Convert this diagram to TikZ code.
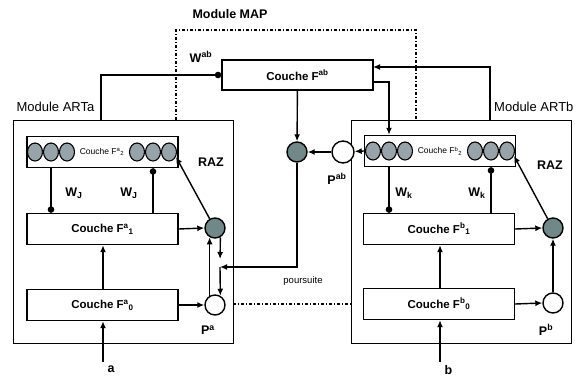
\documentclass[tikz,border=0pt]{standalone}
\usepackage{fontspec}
\setmainfont{Liberation Sans}
\usetikzlibrary{arrows.meta,shapes.geometric}
\definecolor{razgrey}{RGB}{112,136,136}
\definecolor{cellgrey}{RGB}{150,164,170}

\begin{document}
\begin{tikzpicture}[
        x=1pt, y=-1pt,
        every node/.style={font=\fontsize{11.5}{13}\selectfont\bfseries},
        module/.style={draw, line width=1.4pt, anchor=north west, inner sep=0pt,
            minimum width=220pt, minimum height=223pt},
        layer/.style={draw, line width=1.4pt, minimum width=151pt, minimum height=31pt, inner sep=0pt},
        cell/.style={ellipse, draw, line width=1.1pt, fill=cellgrey, minimum width=15pt,
            minimum height=18pt, inner sep=0pt},
        unit/.style={circle, draw, line width=1.4pt, fill=razgrey, minimum size=20pt, inner sep=0pt},
        gate/.style={circle, draw, line width=1.4pt, fill=white, minimum size=20pt, inner sep=0pt},
        link/.style={line width=1.4pt, -{Latex[length=7pt,width=6pt]}},
        tap/.style={line width=1.4pt, -{Circle[length=6.5pt]}},
        mapline/.style={line width=1.4pt, dash pattern=on 3pt off 2pt on 1pt off 2pt},
        tag/.style={font=\fontsize{13}{14}\selectfont},
        lab/.style={font=\fontsize{12.5}{14}\selectfont\bfseries},
        tiny/.style={font=\fontsize{8.5}{9}\selectfont}
    ]

    \useasboundingbox (0,0) rectangle (576,378);

    % Module boxes
    \node[module] (artA) at (13,120) {};
    \node[module] (artB) at (351,120) {};
    \node[tag, anchor=west] (labArtA) at (13,107) {Module ARTa};
    \node[tag, anchor=east] (labArtB) at (577,107) {Module ARTb};
    \node[tag, font=\fontsize{12.5}{14}\selectfont\bfseries] (labMap) at (230,14) {Module MAP};

    % Module MAP outline
    \draw[mapline] (176,120) |- (416,30) -- (416,120);
    \draw[mapline] (233,304) -- (351,304);

    % Map field
    \node[layer, minimum height=30pt] (fab) at (297.5,75) {Couche F\textsuperscript{ab}};
    \node[unit] (mapC) at (297,152) {};
    \node[gate, minimum size=22pt] (pAB) at (343,152) {};
    \node[lab] (labPab) at (337,179) {P\textsuperscript{ab}};
    \node[lab] (labWab) at (201,57) {W\textsuperscript{ab}};
    \node[font=\fontsize{9.5}{10}\selectfont] (labPours) at (303,281) {poursuite};

    % ARTa layers
    \node[layer] (fa2) at (102.5,152) {};
    \node[layer] (fa1) at (102.5,229) {Couche F\textsuperscript{a}\textsubscript{1}};
    \node[layer] (fa0) at (102.5,305) {Couche F\textsuperscript{a}\textsubscript{0}};
    \foreach \i/\x in {1/35,2/51,3/67,4/137,5/153,6/169}
        \node[cell] (cellA\i) at (\x,152) {};
    \node[tiny] (labFa2) at (102,152) {Couche F\textsuperscript{a}\textsubscript{2}};
    \node[unit] (razA) at (215,228) {};
    \node[gate] (pA) at (215,305) {};
    \coordinate (jA) at (220,267);

    % ARTb layers
    \node[layer] (fb2) at (440,151) {};
    \node[layer] (fb1) at (439,229) {Couche F\textsuperscript{b}\textsubscript{1}};
    \node[layer] (fb0) at (439,304) {Couche F\textsuperscript{b}\textsubscript{0}};
    \foreach \i/\x in {1/373,2/389,3/405,4/475,5/491,6/507}
        \node[cell] (cellB\i) at (\x,151) {};
    \node[tiny] (labFb2) at (440,151) {Couche F\textsuperscript{b}\textsubscript{2}};
    \node[unit] (razB) at (553,228) {};
    \node[gate] (pB) at (553,303) {};

    % Labels
    \node[lab] (labRazA) at (211,162) {RAZ};
    \node[lab] (labRazB) at (550,165) {RAZ};
    \node[lab] (labWa1) at (74,193) {W\textsubscript{J}};
    \node[lab] (labWa2) at (129,193) {W\textsubscript{J}};
    \node[lab] (labWb1) at (404,193) {W\textsubscript{k}};
    \node[lab] (labWb2) at (477,193) {W\textsubscript{k}};
    \node[lab] (labPa) at (208,330) {P\textsuperscript{a}};
    \node[lab] (labPb) at (546,330) {P\textsuperscript{b}};

    % Inputs
    \coordinate (inA) at (103,362);
    \coordinate (inB) at (440,362);
    \node[lab, anchor=west] (labA) at (104,369) {a};
    \node[lab, anchor=west] (labB) at (441,370) {b};
    \draw[link] (inA) -- (fa0.south -| inA);
    \draw[link] (inB) -- (fb0.south -| inB);

    % ARTa connections
    \draw[link] (fa0.north -| inA) -- (fa1.south -| inA);
    \draw[link] (fa1.east) -- (razA.west);
    \draw[link] (fa0.east) -- (pA.west);
    \draw[link] (razA.120) -- (cellA6.-35);
    \draw[tap] (fa2.south -| cellA2) -- (fa1.north -| cellA2);
    \draw[tap] (fa1.north -| cellA5) -- (fa2.south -| cellA5);
    \draw[link] (pA.120) -- (razA.240);
    \draw[link, shorten >=8pt] (razA.300) -- (jA);
    \draw[link] (jA) -- (pA.60);

    % ARTb connections
    \draw[link] (fb0.north -| inB) -- (fb1.south -| inB);
    \draw[link] (fb1.east) -- (razB.west);
    \draw[link] (fb0.east) -- (pB.west);
    \draw[link] (pB) -- (razB);
    \draw[link] (razB.120) -- (cellB6.-35);
    \draw[tap] (fb2.south -| cellB2) -- (fb1.north -| cellB2);
    \draw[tap] (fb1.north -| cellB5) -- (fb2.south -| cellB5);

    % Map connections
    \coordinate (aTop) at (101,120);
    \coordinate (bTop) at (490,120);
    \coordinate (fabIn) at (373,67);
    \coordinate (fabOut) at (373,82);
    \draw[tap] (aTop) |- (fab.west);
    \draw[link] (bTop) |- (fabIn);
    \draw[link] (fabOut) -| (cellB2 |- fb2.north);
    \draw[link] (fab) -- (mapC);
    \draw[link] (fb2.west) -- (pAB);
    \draw[link] (pAB) -- (mapC);
    \draw[link] (mapC) |- (jA);

\end{tikzpicture}
\end{document}
